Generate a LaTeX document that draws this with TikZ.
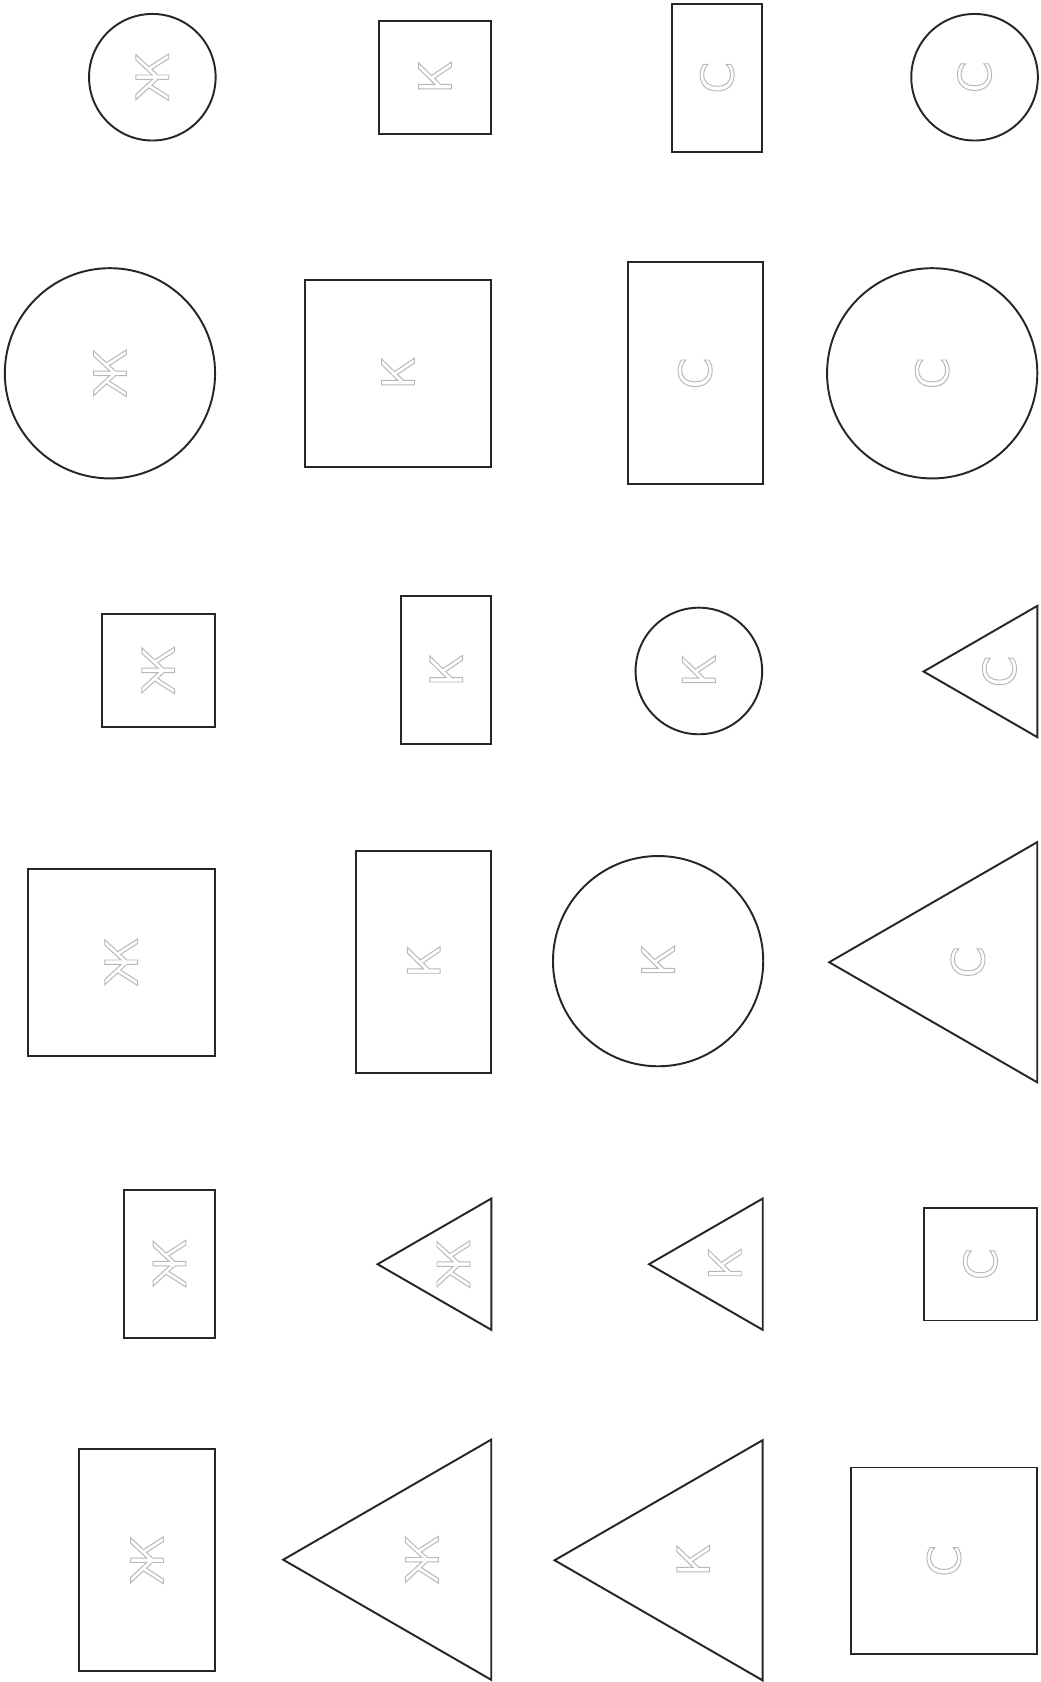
\documentclass[tikz,border=0pt]{standalone}
\usepackage{fontspec}
\usepackage{graphicx}
\usetikzlibrary{shapes.geometric}
\newfontfamily\cyrfont{DejaVu Sans}
\newcommand\hollowtxt[1]{\rotatebox{90}{\cyrfont\fontsize{21}{21}\selectfont\color{black!28}\special{pdf:literal 1 Tr 0.45 w}#1\special{pdf:literal 0 Tr}}}
\tikzset{
  shp/.style={draw=black!85, line width=0.9pt, inner sep=0pt, outer sep=0pt},
  sc/.style={shp, circle, minimum size=59pt},
  lc/.style={shp, circle, minimum size=98pt},
  ss/.style={shp, rectangle, minimum width=52.5pt, minimum height=52.5pt},
  ls/.style={shp, rectangle, minimum width=87pt, minimum height=87pt},
  sr/.style={shp, rectangle, minimum width=42pt, minimum height=69pt},
  lr/.style={shp, rectangle, minimum width=63pt, minimum height=103.5pt},
  st/.style={shp, regular polygon, regular polygon sides=3, shape border rotate=90, minimum size=70.7pt},
  lt/.style={shp, regular polygon, regular polygon sides=3, shape border rotate=90, minimum size=129.3pt}
}
\begin{document}
\begin{tikzpicture}[x=0.5pt,y=-0.5pt]
\useasboundingbox[fill=white] (0,0) rectangle (970,1568);
% row 1
\node[sc] (a1) at (142,72) {\hollowtxt{Ж}};
\node[ss] (b1) at (405.5,72) {\hollowtxt{К}};
\node[sr] (c1) at (668.5,72.5) {\hollowtxt{С}};
\node[sc] (d1) at (908.5,72) {\hollowtxt{С}};
% row 2
\node[lc] (a2) at (102.5,348) {\hollowtxt{Ж}};
\node[ls] (b2) at (371,348) {\hollowtxt{К}};
\node[lr] (c2) at (648,348) {\hollowtxt{С}};
\node[lc] (d2) at (869,348) {\hollowtxt{С}};
% row 3
\node[ss] (a3) at (147.5,625) {\hollowtxt{Ж}};
\node[sr] (b3) at (416,625) {\hollowtxt{К}};
\node[sc] (c3) at (651.5,625.5) {\hollowtxt{К}};
\node[st] (d3) at (931.7,626) {\hollowtxt{С}};
% row 4
\node[ls] (a4) at (113,897) {\hollowtxt{Ж}};
\node[lr] (b4) at (395,896.5) {\hollowtxt{К}};
\node[lc] (c4) at (613.5,896) {\hollowtxt{К}};
\node[lt] (d4) at (902.3,897) {\hollowtxt{С}};
% row 5
\node[sr] (a5) at (158,1178) {\hollowtxt{Ж}};
\node[st] (b5) at (422.7,1178.5) {\hollowtxt{Ж}};
\node[st] (c5) at (675.7,1178.5) {\hollowtxt{К}};
\node[ss] (d5) at (914,1178.5) {\hollowtxt{С}};
% row 6
\node[lr] (a6) at (137,1454.5) {\hollowtxt{Ж}};
\node[lt] (b6) at (393.3,1454) {\hollowtxt{Ж}};
\node[lt] (c6) at (646.3,1454.5) {\hollowtxt{К}};
\node[ls] (d6) at (880,1455) {\hollowtxt{С}};
\end{tikzpicture}
\end{document}
